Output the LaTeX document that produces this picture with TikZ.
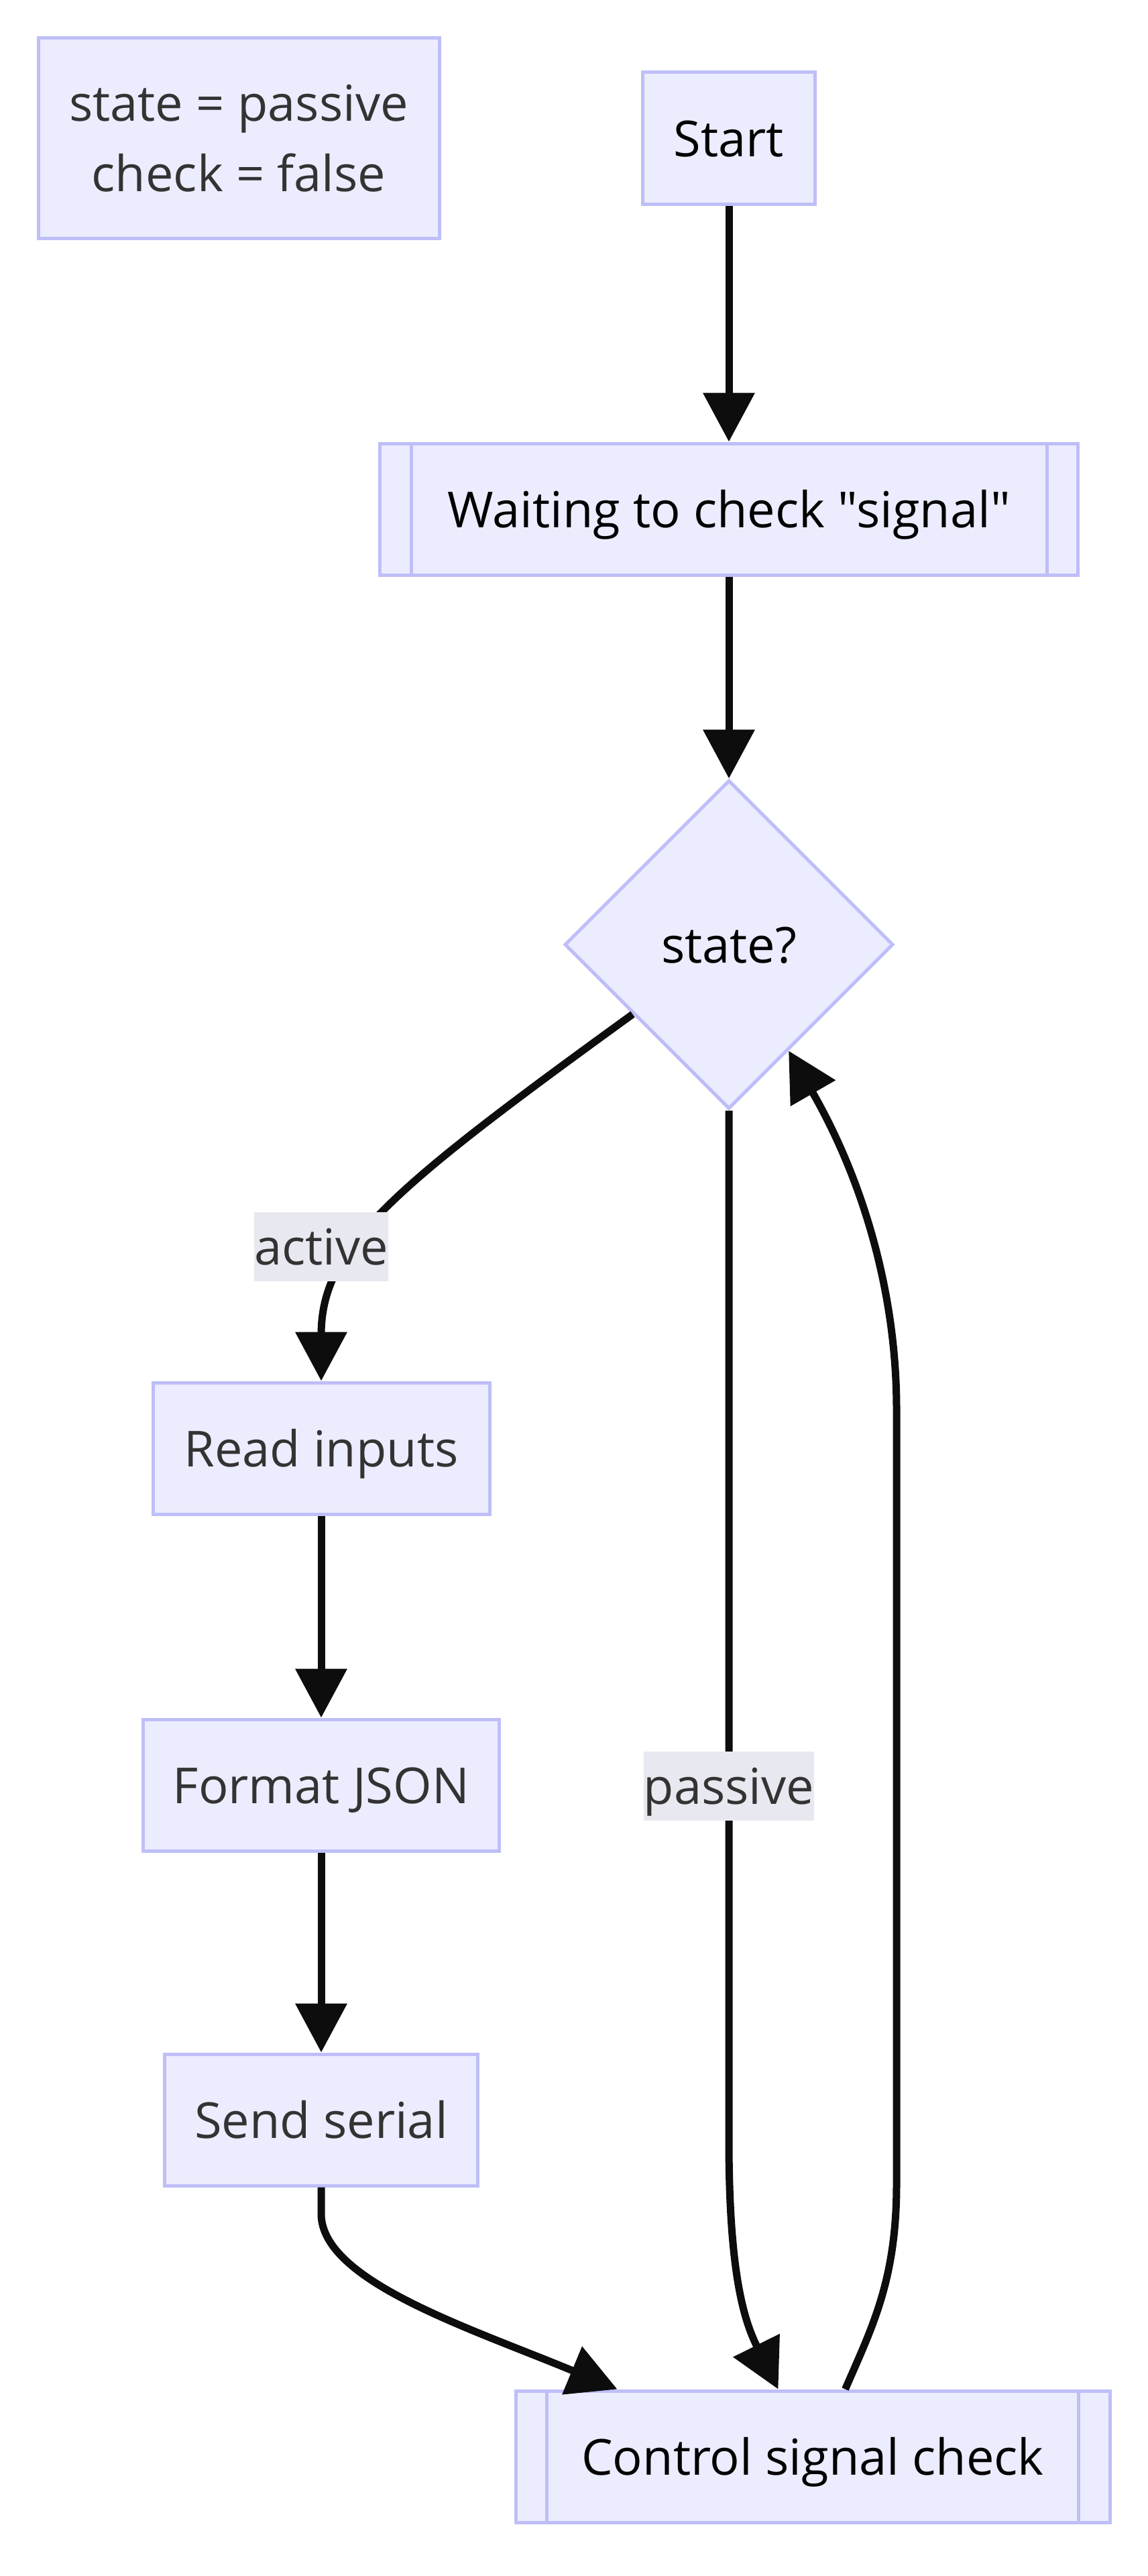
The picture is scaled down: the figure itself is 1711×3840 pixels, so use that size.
\documentclass[tikz,border=0pt]{standalone}
\usepackage{fontspec}
\setmainfont{Open Sans}[Ligatures=TeXOff]
\usetikzlibrary{arrows.meta,shapes.geometric,calc}
\definecolor{nodefill}{RGB}{236,236,255}
\definecolor{nodeline}{RGB}{190,190,248}
\definecolor{edgecol}{RGB}{13,13,13}
\definecolor{labelbg}{RGB}{232,232,240}
\definecolor{txtgrey}{RGB}{51,51,51}
\begin{document}
\begin{tikzpicture}[x=1pt,y=-1pt,
  basebox/.style={draw=nodeline, fill=nodefill, line width=5pt, inner sep=0pt,
    font=\fontsize{74pt}{105pt}\selectfont},
  onel/.style={text height=79pt, text depth=24pt},
  box/.style={basebox, onel, minimum height=196pt},
  decbox/.style={basebox, onel, diamond, aspect=1, minimum width=490pt, minimum height=490pt},
  lab/.style={fill=labelbg, inner sep=0pt, onel, text=txtgrey,
    font=\fontsize{74pt}{105pt}\selectfont},
  edge/.style={draw=edgecol, line width=11pt, -{Triangle[length=73pt,width=75pt]}},
  subline/.style={draw=nodeline, line width=5pt}
]
\fill[white] (0,0) rectangle (1711,3840);
\useasboundingbox (0,0) rectangle (1711,3840);

% nodes
\node[basebox, minimum width=598pt, minimum height=298pt, align=center, text=txtgrey]
  (note) at (356,206) {\rule{0pt}{79pt}state = passive\\check = false\rule[-24pt]{0pt}{24pt}};
\node[box, minimum width=257pt, text=black] (start) at (1087,206) {Start};
\node[box, minimum width=1041pt, text=black] (wait) at (1087,759) {Waiting to check "signal"};
\draw[subline] ([xshift=49pt]wait.north west) -- ([xshift=49pt]wait.south west);
\draw[subline] ([xshift=-49pt]wait.north east) -- ([xshift=-49pt]wait.south east);
\node[decbox, text=black] (dec) at (1087,1408) {state?};
\node[box, minimum width=502pt, text=txtgrey] (read) at (479,2159) {Read inputs};
\node[box, minimum width=531pt, text=txtgrey] (fmt) at (479,2661) {Format JSON};
\node[box, minimum width=467pt, text=txtgrey] (send) at (479,3160) {Send serial};
\node[box, minimum width=886pt, text=black] (ctrl) at (1212,3662) {Control signal check};
\draw[subline] ([xshift=49pt]ctrl.north west) -- ([xshift=49pt]ctrl.south west);
\draw[subline] ([xshift=-49pt]ctrl.north east) -- ([xshift=-49pt]ctrl.south east);

% helper coordinates on node borders
\coordinate (actstart) at ($(dec.west)!0.42!(dec.south)$);
\coordinate (backend) at ($(dec.east)!0.64!(dec.south)$);
\coordinate (sendend) at ($(ctrl.north west)+(154,0)$);
\coordinate (passend) at ($(ctrl.north west)+(394,0)$);
\coordinate (backstart) at ($(ctrl.north west)+(494,0)$);

% edges
\draw[edge] (start.south) -- (wait.north);
\draw[edge] (wait.south) -- (dec.north);
\draw[edge] (actstart) .. controls (580,1775) and (479,1860) .. (479,1990) -- (read.north);
\draw[edge] (read.south) -- (fmt.north);
\draw[edge] (fmt.south) -- (send.north);
\draw[edge] (send.south) -- (479,3300) .. controls (479,3400) and (700,3470) .. (sendend);
\draw[edge] (dec.south) -- (1087,3190) .. controls (1087,3390) and (1110,3460) .. (passend);
\draw[edge] (backstart) .. controls (1300,3470) and (1337,3400) .. (1337,3256)
  -- (1337,2100) .. controls (1337,1930) and (1288,1761) .. (backend);

% edge labels
\node[lab] (lact) at (479,1858) {active};
\node[lab] (lpas) at (1087,2662) {passive};
\end{tikzpicture}
\end{document}
